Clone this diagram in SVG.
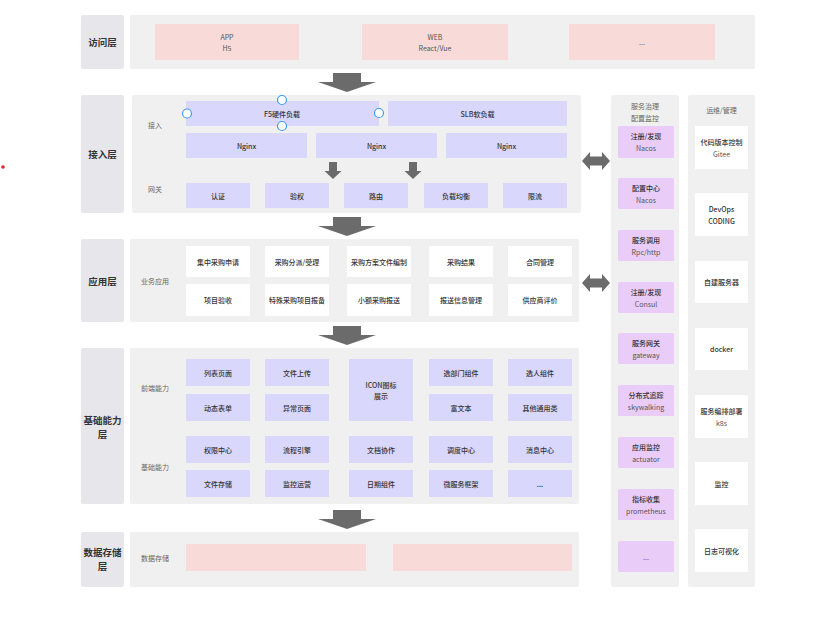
<svg xmlns="http://www.w3.org/2000/svg" width="827" height="626" viewBox="0 0 827 626">
  <defs>
    <style>
      text { font-family: "Noto Sans CJK SC", "Noto Sans", sans-serif; text-anchor: middle; dominant-baseline: central; }
      .layer-tag { fill: #e7e7eb; }
      .panel { fill: #f0f0f0; }
      .pink { fill: #f8dbd9; }
      .lav { fill: #d9d7fb; }
      .white { fill: #ffffff; }
      .violet { fill: #e9cdf8; }
      .tag-text { font-size: 9.5px; font-weight: 700; fill: #333333; }
      .box-text { font-size: 7px; font-weight: 500; fill: #333333; }
      .soft-text { font-size: 7px; fill: #555555; }
      .side-text { font-size: 7px; fill: #666666; }
      .arrow { fill: #6b6b6b; }
      .handle { fill: #ffffff; stroke: #3d9bf2; stroke-width: 1.2; }
    </style>
    <!-- big downward block arrow, centered at x=0, top at y=0 -->
    <path id="bigDown" d="M-14,0 H14 V9 H29 L0,19 L-29,9 H-14 Z"/>
    <!-- small downward arrow -->
    <path id="smallDown" d="M-4,0 H4 V9 H8.5 L0,17 L-8.5,9 H-4 Z"/>
    <!-- horizontal two-way arrow, centered at origin -->
    <path id="twoWay" d="M-14,0 L-6,-9 V-4.5 H6 V-9 L14,0 L6,9 V4.5 H-6 V9 Z"/>
  </defs>

  <rect width="827" height="626" fill="#ffffff"/>
  <circle cx="3" cy="167" r="1.8" fill="#e02424"/>

  <!-- 访问层 -->
  <g id="layer-access">
    <rect class="layer-tag" x="81" y="15" width="43" height="54" rx="2"/>
    <text class="tag-text" x="102.5" y="42">访问层</text>
    <rect class="panel" x="130" y="15" width="625" height="54" rx="2"/>
    <g id="access-app">
      <rect class="pink" x="155" y="24" width="144" height="36"/>
      <text class="soft-text" x="227" y="36.5">APP</text>
      <text class="soft-text" x="227" y="47.5">H5</text>
    </g>
    <g id="access-web">
      <rect class="pink" x="362" y="24" width="146" height="36"/>
      <text class="soft-text" x="435" y="36.5">WEB</text>
      <text class="soft-text" x="435" y="47.5">React/Vue</text>
    </g>
    <g id="access-more">
      <rect class="pink" x="569" y="24" width="146" height="36"/>
      <text class="soft-text" x="642" y="42">...</text>
    </g>
  </g>

  <!-- 接入层 -->
  <g id="layer-gateway">
    <rect class="layer-tag" x="81" y="95" width="43" height="118" rx="2"/>
    <text class="tag-text" x="102.5" y="154">接入层</text>
    <rect class="panel" x="132" y="95" width="449" height="118" rx="2"/>
    <text class="side-text" x="155" y="125">接入</text>
    <text class="side-text" x="155" y="189">网关</text>
    <g id="lb-f5">
      <rect class="lav" x="186" y="101" width="193" height="25"/>
      <text class="box-text" x="282" y="113.5">F5硬件负载</text>
    </g>
    <g id="lb-slb">
      <rect class="lav" x="388" y="101" width="179" height="25"/>
      <text class="box-text" x="477.5" y="113.5">SLB软负载</text>
    </g>
    <g id="nginx-1">
      <rect class="lav" x="186" y="133" width="121" height="25"/>
      <text class="box-text" x="246.5" y="145.5">Nginx</text>
    </g>
    <g id="nginx-2">
      <rect class="lav" x="316" y="133" width="121" height="25"/>
      <text class="box-text" x="376.5" y="145.5">Nginx</text>
    </g>
    <g id="nginx-3">
      <rect class="lav" x="446" y="133" width="121" height="25"/>
      <text class="box-text" x="506.5" y="145.5">Nginx</text>
    </g>
    <g id="gw-auth">
      <rect class="lav" x="186" y="183" width="64" height="25"/>
      <text class="box-text" x="218" y="195.5">认证</text>
    </g>
    <g id="gw-perm">
      <rect class="lav" x="265" y="183" width="64" height="25"/>
      <text class="box-text" x="297" y="195.5">验权</text>
    </g>
    <g id="gw-route">
      <rect class="lav" x="344" y="183" width="64" height="25"/>
      <text class="box-text" x="376" y="195.5">路由</text>
    </g>
    <g id="gw-balance">
      <rect class="lav" x="424" y="183" width="64" height="25"/>
      <text class="box-text" x="456" y="195.5">负载均衡</text>
    </g>
    <g id="gw-limit">
      <rect class="lav" x="503" y="183" width="64" height="25"/>
      <text class="box-text" x="535" y="195.5">限流</text>
    </g>
  </g>

  <!-- 应用层 -->
  <g id="layer-app">
    <rect class="layer-tag" x="81" y="239" width="43" height="83" rx="2"/>
    <text class="tag-text" x="102.5" y="280.5">应用层</text>
    <rect class="panel" x="130" y="239" width="449" height="83" rx="2"/>
    <text class="side-text" x="155" y="281">业务应用</text>
    <g id="app-1"><rect class="white" x="186" y="246" width="64" height="31"/><text class="box-text" x="218" y="261.5">集中采购申请</text></g>
    <g id="app-2"><rect class="white" x="265" y="246" width="64" height="31"/><text class="box-text" x="297" y="261.5">采购分派/受理</text></g>
    <g id="app-3"><rect class="white" x="347" y="246" width="64" height="31"/><text class="box-text" x="379" y="261.5">采购方案文件编制</text></g>
    <g id="app-4"><rect class="white" x="429" y="246" width="64" height="31"/><text class="box-text" x="461" y="261.5">采购结果</text></g>
    <g id="app-5"><rect class="white" x="508" y="246" width="64" height="31"/><text class="box-text" x="540" y="261.5">合同管理</text></g>
    <g id="app-6"><rect class="white" x="186" y="284" width="64" height="32"/><text class="box-text" x="218" y="300">项目验收</text></g>
    <g id="app-7"><rect class="white" x="265" y="284" width="64" height="32"/><text class="box-text" x="297" y="300">特殊采购项目报备</text></g>
    <g id="app-8"><rect class="white" x="347" y="284" width="64" height="32"/><text class="box-text" x="379" y="300">小额采购报送</text></g>
    <g id="app-9"><rect class="white" x="429" y="284" width="64" height="32"/><text class="box-text" x="461" y="300">报送信息管理</text></g>
    <g id="app-10"><rect class="white" x="508" y="284" width="64" height="32"/><text class="box-text" x="540" y="300">供应商评价</text></g>
  </g>

  <!-- 基础能力层 -->
  <g id="layer-base">
    <rect class="layer-tag" x="81" y="348" width="43" height="156" rx="2"/>
    <text class="tag-text" x="102.5" y="420">基础能力</text>
    <text class="tag-text" x="102.5" y="434">层</text>
    <rect class="panel" x="130" y="348" width="449" height="156" rx="2"/>
    <text class="side-text" x="155" y="388">前端能力</text>
    <text class="side-text" x="155" y="467">基础能力</text>
    <g id="fe-list"><rect class="lav" x="186" y="359" width="64" height="27"/><text class="box-text" x="218" y="372.5">列表页面</text></g>
    <g id="fe-upload"><rect class="lav" x="265" y="359" width="64" height="27"/><text class="box-text" x="297" y="372.5">文件上传</text></g>
    <g id="fe-icon"><rect class="lav" x="349" y="359" width="64" height="62"/><text class="box-text" x="381" y="385">ICON图标</text><text class="box-text" x="381" y="396">展示</text></g>
    <g id="fe-dept"><rect class="lav" x="429" y="359" width="64" height="27"/><text class="box-text" x="461" y="372.5">选部门组件</text></g>
    <g id="fe-user"><rect class="lav" x="508" y="359" width="64" height="27"/><text class="box-text" x="540" y="372.5">选人组件</text></g>
    <g id="fe-form"><rect class="lav" x="186" y="394" width="64" height="27"/><text class="box-text" x="218" y="407.5">动态表单</text></g>
    <g id="fe-error"><rect class="lav" x="265" y="394" width="64" height="27"/><text class="box-text" x="297" y="407.5">异常页面</text></g>
    <g id="fe-rich"><rect class="lav" x="429" y="394" width="64" height="27"/><text class="box-text" x="461" y="407.5">富文本</text></g>
    <g id="fe-other"><rect class="lav" x="508" y="394" width="64" height="27"/><text class="box-text" x="540" y="407.5">其他通用类</text></g>
    <g id="be-auth"><rect class="lav" x="186" y="436" width="64" height="27"/><text class="box-text" x="218" y="449.5">权限中心</text></g>
    <g id="be-flow"><rect class="lav" x="265" y="436" width="64" height="27"/><text class="box-text" x="297" y="449.5">流程引擎</text></g>
    <g id="be-doc"><rect class="lav" x="349" y="436" width="64" height="27"/><text class="box-text" x="381" y="449.5">文档协作</text></g>
    <g id="be-sched"><rect class="lav" x="429" y="436" width="64" height="27"/><text class="box-text" x="461" y="449.5">调度中心</text></g>
    <g id="be-msg"><rect class="lav" x="508" y="436" width="64" height="27"/><text class="box-text" x="540" y="449.5">消息中心</text></g>
    <g id="be-file"><rect class="lav" x="186" y="470" width="64" height="27"/><text class="box-text" x="218" y="483.5">文件存储</text></g>
    <g id="be-ops"><rect class="lav" x="265" y="470" width="64" height="27"/><text class="box-text" x="297" y="483.5">监控运营</text></g>
    <g id="be-date"><rect class="lav" x="349" y="470" width="64" height="27"/><text class="box-text" x="381" y="483.5">日期组件</text></g>
    <g id="be-micro"><rect class="lav" x="429" y="470" width="64" height="27"/><text class="box-text" x="461" y="483.5">微服务框架</text></g>
    <g id="be-more"><rect class="lav" x="508" y="470" width="64" height="27"/><text class="box-text" x="540" y="483.5">...</text></g>
  </g>

  <!-- 数据存储层 -->
  <g id="layer-data">
    <rect class="layer-tag" x="81" y="532" width="43" height="55" rx="2"/>
    <text class="tag-text" x="102.5" y="552">数据存储</text>
    <text class="tag-text" x="102.5" y="566">层</text>
    <rect class="panel" x="130" y="532" width="449" height="55" rx="2"/>
    <text class="side-text" x="155" y="558">数据存储</text>
    <rect id="store-1" class="pink" x="186" y="544" width="180" height="27"/>
    <rect id="store-2" class="pink" x="393" y="544" width="179" height="27"/>
  </g>

  <!-- 服务治理 / 配置监控 -->
  <g id="col-governance">
    <rect class="panel" x="611" y="95" width="68" height="492" rx="2"/>
    <text class="side-text" x="645" y="106">服务治理</text>
    <text class="side-text" x="645" y="118">配置监控</text>
    <g id="gov-1"><rect class="violet" x="618" y="126" width="56" height="32" rx="1.5"/><text class="box-text" x="646" y="136">注册/发现</text><text class="soft-text" x="646" y="148">Nacos</text></g>
    <g id="gov-2"><rect class="violet" x="618" y="178" width="56" height="31" rx="1.5"/><text class="box-text" x="646" y="188">配置中心</text><text class="soft-text" x="646" y="200">Nacos</text></g>
    <g id="gov-3"><rect class="violet" x="618" y="230" width="56" height="31" rx="1.5"/><text class="box-text" x="646" y="240">服务调用</text><text class="soft-text" x="646" y="252">Rpc/http</text></g>
    <g id="gov-4"><rect class="violet" x="618" y="282" width="56" height="31" rx="1.5"/><text class="box-text" x="646" y="292">注册/发现</text><text class="soft-text" x="646" y="304">Consul</text></g>
    <g id="gov-5"><rect class="violet" x="618" y="333" width="56" height="31" rx="1.5"/><text class="box-text" x="646" y="343">服务网关</text><text class="soft-text" x="646" y="355">gateway</text></g>
    <g id="gov-6"><rect class="violet" x="618" y="385" width="56" height="31" rx="1.5"/><text class="box-text" x="646" y="395">分布式追踪</text><text class="soft-text" x="646" y="407">skywalking</text></g>
    <g id="gov-7"><rect class="violet" x="618" y="437" width="56" height="31" rx="1.5"/><text class="box-text" x="646" y="447">应用监控</text><text class="soft-text" x="646" y="459">actuator</text></g>
    <g id="gov-8"><rect class="violet" x="618" y="489" width="56" height="31" rx="1.5"/><text class="box-text" x="646" y="499">指标收集</text><text class="soft-text" x="646" y="511">prometheus</text></g>
    <g id="gov-9"><rect class="violet" x="618" y="541" width="56" height="31" rx="1.5"/><text class="soft-text" x="646" y="556.5">...</text></g>
  </g>

  <!-- 运维/管理 -->
  <g id="col-ops">
    <rect class="panel" x="688" y="95" width="67" height="492" rx="2"/>
    <text class="side-text" x="721.5" y="110">运维/管理</text>
    <g id="ops-1"><rect class="white" x="695" y="126" width="53" height="43"/><text class="box-text" x="721.5" y="142">代码版本控制</text><text class="soft-text" x="721.5" y="154">Gitee</text></g>
    <g id="ops-2"><rect class="white" x="695" y="193" width="53" height="43"/><text class="box-text" x="721.5" y="209">DevOps</text><text class="box-text" x="721.5" y="221">CODING</text></g>
    <g id="ops-3"><rect class="white" x="695" y="261" width="53" height="42"/><text class="box-text" x="721.5" y="282">自建服务器</text></g>
    <g id="ops-4"><rect class="white" x="695" y="328" width="53" height="42"/><text class="box-text" x="721.5" y="349">docker</text></g>
    <g id="ops-5"><rect class="white" x="695" y="395" width="53" height="43"/><text class="box-text" x="721.5" y="411">服务编排部署</text><text class="soft-text" x="721.5" y="423">k8s</text></g>
    <g id="ops-6"><rect class="white" x="695" y="462" width="53" height="43"/><text class="box-text" x="721.5" y="483.5">监控</text></g>
    <g id="ops-7"><rect class="white" x="695" y="529" width="53" height="43"/><text class="box-text" x="721.5" y="550.5">日志可视化</text></g>
  </g>

  <!-- connectors -->
  <g id="connectors">
    <use href="#bigDown" class="arrow" x="347" y="73"/>
    <use href="#bigDown" class="arrow" x="347" y="217"/>
    <use href="#bigDown" class="arrow" x="347" y="326"/>
    <use href="#bigDown" class="arrow" x="347" y="510"/>
    <use href="#smallDown" class="arrow" x="333" y="162"/>
    <use href="#smallDown" class="arrow" x="413" y="162"/>
    <use href="#twoWay" class="arrow" x="596" y="161"/>
    <use href="#twoWay" class="arrow" x="596" y="283"/>
  </g>

  <!-- selection handles on the F5 box -->
  <g id="f5-handles">
    <circle class="handle" cx="282" cy="100" r="4.5"/>
    <circle class="handle" cx="187" cy="113.5" r="4.5"/>
    <circle class="handle" cx="379" cy="113" r="4.5"/>
    <circle class="handle" cx="282" cy="126" r="4.5"/>
  </g>
</svg>
